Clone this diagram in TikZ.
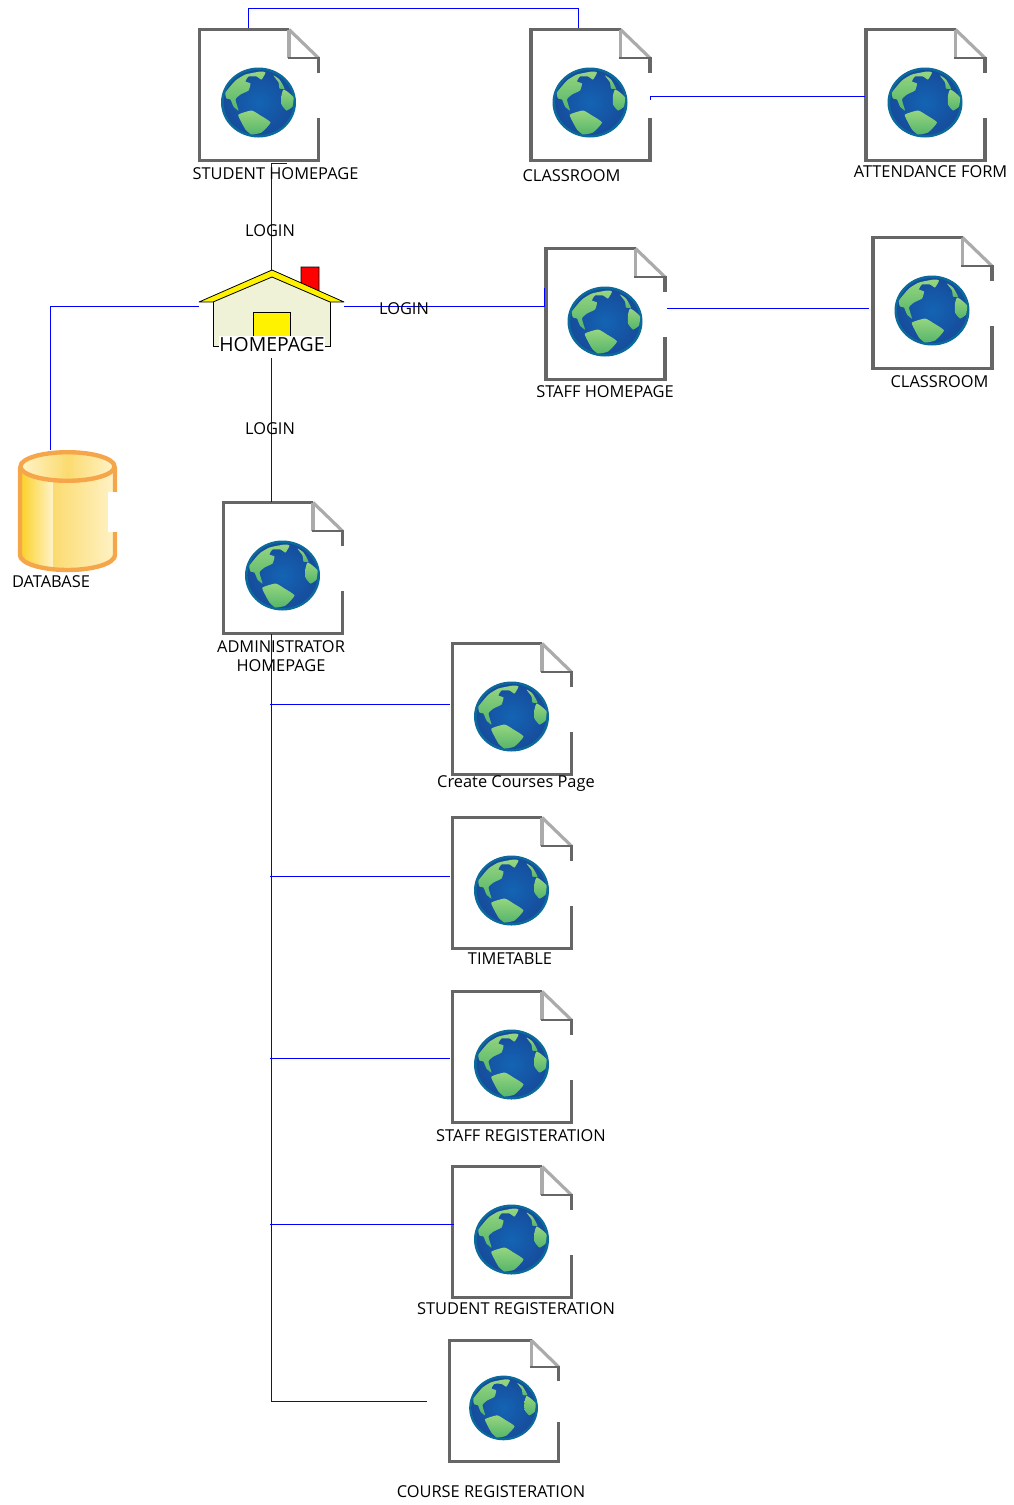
\documentclass[tikz,border=0pt]{standalone}
\usepackage{fontspec}
\setmainfont{Open Sans}
\usetikzlibrary{calc}

\definecolor{pagegray}{HTML}{666666}
\definecolor{foldgray}{HTML}{ABABAB}
\definecolor{globerim}{HTML}{0B6A9C}
\definecolor{seainner}{HTML}{1464B4}
\definecolor{seaouter}{HTML}{174C9C}
\definecolor{landtop}{HTML}{96D580}
\definecolor{landfoot}{HTML}{55B56A}
\definecolor{tankline}{HTML}{F6A64A}
\definecolor{tankdeep}{HTML}{FBD22F}
\definecolor{tankmid}{HTML}{FBDB70}
\definecolor{tankpale}{HTML}{FFF3C8}
\definecolor{housewall}{HTML}{F0F2D8}

\tikzset{
	pagebox/.style={minimum width=119pt,minimum height=131pt,inner sep=0pt,outer sep=0pt},
	link/.style={blue,line width=1pt},
	caption/.style={inner sep=0pt,font=\fontsize{16.4}{19.5}\selectfont,align=center},
	continent/.style={top color=landtop,bottom color=landfoot},
	webpage/.pic={
		%sheet
		\draw[pagegray,line width=3.2pt] (59.5,-22)--(59.5,-37);
		\draw[pagegray,line width=3.2pt,line join=miter] (30,-65.5)--(-59.5,-65.5)--(-59.5,65.5)--(59.5,65.5)--(59.5,23);
		%fold
		\draw[foldgray,line width=3.2pt] (30,-65.5)--(59.5,-37);
		\draw[foldgray,line width=3.2pt] (30,-65.5)--(30,-37);
		\draw[pagegray,line width=2.6pt] (28.5,-37)--(61,-37);
		%globe
		\begin{scope}[shift={(-0.5,7.5)}]
			\fill[globerim] (0,0) ellipse [x radius=37.5,y radius=35];
			\shade[inner color=seainner,outer color=seaouter] (0,0) ellipse [x radius=34.8,y radius=32.5];
			\path[continent] plot[smooth cycle,tension=0.3] coordinates {(-33,-10) (-23,-22) (-13,-28) (2,-31) (7,-30) (3,-23) (-2,-26) (-10,-26) (-13,-21) (-8,-19) (-10,-12) (-18,-8) (-23,-3) (-20,8) (-25,4) (-28,-3) (-32,-4)};
			\path[continent] plot[smooth cycle,tension=0.3] coordinates {(-20,12) (-7,8) (2,13) (12,20) (3,30) (-7,32) (-13,27) (-18,18)};
			\path[continent] plot[smooth cycle,tension=0.3] coordinates {(25,-13) (30,-10) (35,-5) (34,4) (28,8) (23,2) (23,-7)};
			\path[continent] plot[smooth cycle,tension=0.3] coordinates {(15,-27) (21,-23) (26,-14) (21,-14) (20,-20)};
		\end{scope}
	}
}

\begin{document}
\begin{tikzpicture}[x=1pt,y=-1pt]
	\useasboundingbox (0,0) rectangle (1013,1505);

	%pages
	\foreach \pagename/\px/\py in {student/259/95,classone/590.5/95,attendance/925.5/95,staff/605.5/314,classtwo/932.5/303,admin/283/568,courses/512/709,timetable/512/883,staffreg/512/1057,studentreg/512/1232}{
		\node[pagebox] (\pagename) at (\px,\py) {};
		\pic at (\pagename) {webpage};
	}
	\node[pagebox,minimum width=109pt,minimum height=122pt] (coursereg) at (504,1401) {};
	\pic[xscale=0.917,yscale=0.924] at (coursereg) {webpage};

	%house
	\node[inner sep=0pt,minimum width=117pt,minimum height=76pt] (home) at (271.5,308) {};
	\draw[fill=red,line width=0.8pt] (301,267)--(319,267)--(319,292)--(301,283)--cycle;
	\fill[housewall] (213,300)--(272,276)--(330,300)--(330,346)--(213,346)--cycle;
	\draw[line width=0.8pt] (213,301)--(213,346)--(330,346)--(330,301);
	\draw[fill=yellow,line width=0.8pt] (253,312) rectangle (290,340);
	\draw[fill=yellow,line width=0.8pt,line join=round] (199,302)--(272,270)--(344,302)--(330,302)--(272,277)--(213,302)--cycle;
	\node[caption,fill=white,font=\fontsize{19.4}{21}\selectfont,minimum width=105pt,minimum height=18pt] (homelabel) at (272,344.5) {HOMEPAGE};

	%database
	\node[inner sep=0pt,minimum width=98pt,minimum height=122pt] (database) at (67,511) {};
	\begin{scope}
		\clip (20,466)--(20,555) arc [start angle=180,end angle=0,x radius=47.5,y radius=15]--(115,466)--cycle;
		\shade[left color=tankdeep,right color=tankpale] (22,460) rectangle (53,575);
		\shade[left color=tankmid,right color=tankpale] (53,460) rectangle (116,575);
		\fill[tankdeep] (18,460) rectangle (22,575);
	\end{scope}
	\shade[left color=tankpale,right color=tankpale,middle color=tankmid] (67.5,466.5) ellipse [x radius=47,y radius=14.3];
	\draw[tankline,line width=4.4pt] (67.5,466.5) ellipse [x radius=47,y radius=14.3];
	\draw[tankline,line width=4.4pt] (20,467)--(20,555) arc [start angle=180,end angle=0,x radius=47.5,y radius=15]--(115,467);
	\fill[white] (108,492) rectangle (118,532);

	%free ends
	\coordinate (studenttop) at (248.5,28);
	\coordinate (classtop) at (578.5,28);
	\coordinate (studentfoot) at (287,163.5);
	\coordinate (classside) at (650,100);
	\coordinate (attendside) at (865,96.5);
	\coordinate (houseleft) at (199,306.5);
	\coordinate (houseright) at (344,306.5);
	\coordinate (staffleft) at (544,288);
	\coordinate (staffright) at (667,308.5);
	\coordinate (classtwoside) at (869,308.5);
	\coordinate (tanktop) at (50.5,450);
	\coordinate (housefoot) at (271.5,358);
	\coordinate (admintop) at (271.5,502);
	\coordinate (housetop) at (271.5,270);
	\coordinate (trunktop) at (271.5,634);
	\coordinate (trunkend) at (427,1401.5);
	\coordinate (coursesside) at (450,704.5);
	\coordinate (timetableside) at (450,876.5);
	\coordinate (staffregside) at (450,1058.5);
	\coordinate (studentregside) at (454,1224.5);

	%connectors
	\draw[link] (studenttop)--(248.5,8.5)--(578.5,8.5)--(classtop);
	\draw[link] (studentfoot)--(271.5,163.5)--(housetop);
	\draw[link] (classside)--(650,96.5)--(attendside);
	\draw[link] (houseright)--(544,306.5)--(staffleft);
	\draw[link] (staffright)--(classtwoside);
	\draw[link] (houseleft)--(50.5,306.5)--(tanktop);
	\draw[link] (housefoot)--(admintop);
	\draw[link] (trunktop)--(271.5,1401.5)--(trunkend);
	\draw[link] (270,704.5)--(coursesside);
	\draw[link] (270,876.5)--(timetableside);
	\draw[link] (270,1058.5)--(staffregside);
	\draw[link] (270,1224.5)--(studentregside);

	%labels
	\node[caption] (studentlabel) at (275.5,174) {STUDENT HOMEPAGE};
	\node[caption] (classonelabel) at (571.5,176) {CLASSROOM};
	\node[caption] (attendlabel) at (930.5,172) {ATTENDANCE FORM};
	\node[caption] (loginup) at (270,231) {LOGIN};
	\node[caption] (loginright) at (404,309) {LOGIN};
	\node[caption] (logindown) at (270,429) {LOGIN};
	\node[caption] (stafflabel) at (605,392) {STAFF HOMEPAGE};
	\node[caption] (classtwolabel) at (939.5,382) {CLASSROOM};
	\node[caption] (tanklabel) at (51,582) {DATABASE};
	\node[caption] (adminlabel) at (281,656) {ADMINISTRATOR\\HOMEPAGE};
	\node[caption] (courselabel) at (516,784) {Create Courses Page};
	\node[caption] (timelabel) at (510,959) {TIMETABLE};
	\node[caption] (staffreglabel) at (521,1136) {STAFF REGISTERATION};
	\node[caption] (studentreglabel) at (516,1309) {STUDENT REGISTERATION};
	\node[caption] (coursereglabel) at (491,1492) {COURSE REGISTERATION};
\end{tikzpicture}
\end{document}
